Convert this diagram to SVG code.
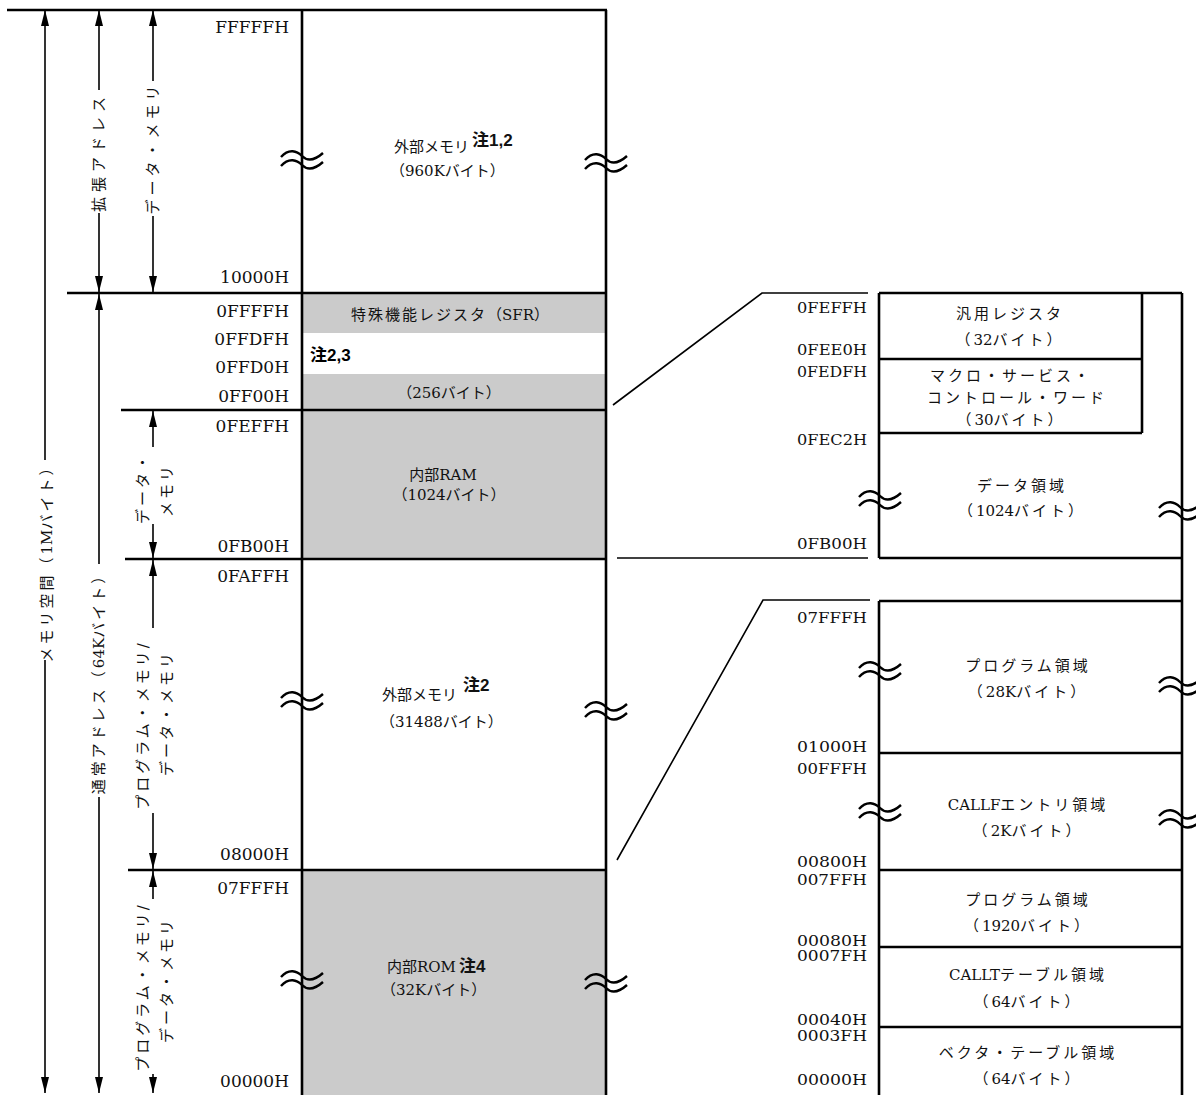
<svg xmlns="http://www.w3.org/2000/svg" width="1196" height="1095" viewBox="0 0 1196 1095">
<style>
.ln{stroke:#000;stroke-width:1.6;fill:none}
.bx{stroke:#000;stroke-width:2.6;fill:none}
.addr{font-family:"DejaVu Serif","Liberation Serif",serif;font-size:17px;text-anchor:end;fill:#111}
.addr2{font-family:"DejaVu Serif","Liberation Serif",serif;font-size:14.5px;text-anchor:end;fill:#111}
.t{font-family:"DejaVu Serif","Noto Sans CJK JP",sans-serif;font-size:15px;fill:#111}
.r{letter-spacing:3px}
.n{letter-spacing:0}
.c{text-anchor:middle}
.note{font-family:"Liberation Sans","Noto Sans CJK JP",sans-serif;font-weight:bold;font-size:17px}
.v{font-family:"DejaVu Serif","Noto Sans CJK JP",sans-serif;font-size:15px;text-anchor:middle;dominant-baseline:central;letter-spacing:3px;fill:#111}
.gray{fill:#cbcbcb}
.brk{stroke:#000;stroke-width:2.4;fill:none}
.ar{stroke:#000;stroke-width:1.6;fill:none;marker-end:url(#ah)}
</style>
<defs>
<marker id="ah" viewBox="0 0 16 8" refX="16" refY="4" markerWidth="16" markerHeight="8" orient="auto" markerUnits="userSpaceOnUse"><path d="M0,0 L16,4 L0,8 z" fill="#000"/></marker>
<path id="wave" class="brk" d="M-21,-3 C-13,-12 -5,-9 0,-4 S12,1 21,-7 M-21,6 C-13,-3 -5,0 0,5 S12,10 21,2"/>
</defs>

<!-- main column -->
<g id="main-column">
<rect class="gray" x="302" y="293" width="304" height="40"/>
<rect class="gray" x="302" y="374" width="304" height="36"/>
<rect class="gray" x="302" y="410" width="304" height="149"/>
<rect class="gray" x="302" y="870" width="304" height="225"/>
<line class="bx" x1="302" y1="10" x2="302" y2="1095"/>
<line class="bx" x1="606" y1="10" x2="606" y2="1095"/>
<line class="bx" x1="7" y1="10" x2="607" y2="10"/>
<line class="bx" x1="67" y1="293" x2="607" y2="293"/>
<line class="bx" x1="121" y1="410" x2="607" y2="410"/>
<line class="bx" x1="125" y1="559" x2="607" y2="559"/>
<line class="bx" x1="128" y1="870" x2="607" y2="870"/>
</g>

<g id="node-ext-mem-960k">
<text class="t" x="394" y="152">外部メモリ<tspan class="note" dx="3" dy="-6">注1,2</tspan></text>
<text class="t" x="390" y="176">（960Kバイト）</text>
</g>
<g id="node-sfr">
<text class="t c" x="450" y="320" style="letter-spacing:2px">特殊機能レジスタ<tspan class="n">（SFR）</tspan></text>
<text class="note" x="310" y="361">注2,3</text>
<text class="t c" x="449" y="398">（256バイト）</text>
</g>
<g id="node-internal-ram">
<text class="t c" x="443" y="480">内部RAM</text>
<text class="t c" x="449" y="500">（1024バイト）</text>
</g>
<g id="node-ext-mem-31488">
<text class="t" x="382" y="700">外部メモリ<tspan class="note" dx="6" dy="-9">注2</tspan></text>
<text class="t" x="380" y="727">（31488バイト）</text>
</g>
<g id="node-internal-rom">
<text class="t" x="387" y="972">内部ROM<tspan class="note" dx="3">注4</tspan></text>
<text class="t" x="381" y="995">（32Kバイト）</text>
</g>

<g id="main-addresses">
<text class="addr" x="289" y="33">FFFFFH</text>
<text class="addr" x="289" y="283">10000H</text>
<text class="addr" x="289" y="317">0FFFFH</text>
<text class="addr" x="289" y="345">0FFDFH</text>
<text class="addr" x="289" y="373">0FFD0H</text>
<text class="addr" x="289" y="402">0FF00H</text>
<text class="addr" x="289" y="432">0FEFFH</text>
<text class="addr" x="289" y="552">0FB00H</text>
<text class="addr" x="289" y="582">0FAFFH</text>
<text class="addr" x="289" y="860">08000H</text>
<text class="addr" x="289" y="894">07FFFH</text>
<text class="addr" x="289" y="1087">00000H</text>
</g>

<!-- right detail: data area -->
<g id="detail-data">
<line class="bx" x1="879" y1="293" x2="1182" y2="293"/>
<line class="bx" x1="879" y1="293" x2="879" y2="558"/>
<line class="bx" x1="1182" y1="293" x2="1182" y2="1095"/>
<line class="bx" x1="879" y1="558" x2="1182" y2="558"/>
<line class="bx" x1="1142" y1="293" x2="1142" y2="433"/>
<line class="bx" x1="879" y1="359" x2="1142" y2="359"/>
<line class="bx" x1="879" y1="433" x2="1142" y2="433"/>
</g>
<g id="node-gp-reg">
<text class="t c r" x="1010" y="319">汎用レジスタ</text>
<text class="t c r" x="1010" y="345">（<tspan class="n">32</tspan>バイト）</text>
</g>
<g id="node-macro">
<text class="t c r" x="1011" y="381">マクロ・サービス・</text>
<text class="t c r" x="1017" y="403">コントロール・ワード</text>
<text class="t c r" x="1011" y="425">（<tspan class="n">30</tspan>バイト）</text>
</g>
<g id="node-data-area">
<text class="t c r" x="1022" y="491">データ領域</text>
<text class="t c r" x="1022" y="516">（<tspan class="n">1024</tspan>バイト）</text>
</g>
<g id="detail-data-addr">
<text class="addr2" x="867" y="313" textLength="70" lengthAdjust="spacingAndGlyphs">0FEFFH</text>
<text class="addr2" x="867" y="355" textLength="70" lengthAdjust="spacingAndGlyphs">0FEE0H</text>
<text class="addr2" x="867" y="377" textLength="70" lengthAdjust="spacingAndGlyphs">0FEDFH</text>
<text class="addr2" x="867" y="445" textLength="70" lengthAdjust="spacingAndGlyphs">0FEC2H</text>
<text class="addr2" x="867" y="549" textLength="70" lengthAdjust="spacingAndGlyphs">0FB00H</text>
</g>

<!-- right detail: program area -->
<g id="detail-program">
<line class="bx" x1="879" y1="601" x2="1182" y2="601"/>
<line class="bx" x1="879" y1="601" x2="879" y2="1095"/>
<line class="bx" x1="879" y1="753" x2="1182" y2="753"/>
<line class="bx" x1="879" y1="870" x2="1182" y2="870"/>
<line class="bx" x1="879" y1="947" x2="1182" y2="947"/>
<line class="bx" x1="879" y1="1027" x2="1182" y2="1027"/>
</g>
<g id="node-prog-28k">
<text class="t c r" x="1028" y="671">プログラム領域</text>
<text class="t c r" x="1028" y="697">（<tspan class="n">28K</tspan>バイト）</text>
</g>
<g id="node-callf">
<text class="t c r" x="1028" y="810"><tspan class="n">CALLF</tspan>エントリ領域</text>
<text class="t c r" x="1028" y="836">（<tspan class="n">2K</tspan>バイト）</text>
</g>
<g id="node-prog-1920">
<text class="t c r" x="1028" y="905">プログラム領域</text>
<text class="t c r" x="1028" y="931">（<tspan class="n">1920</tspan>バイト）</text>
</g>
<g id="node-callt">
<text class="t c r" x="1028" y="980"><tspan class="n">CALLT</tspan>テーブル領域</text>
<text class="t c r" x="1028" y="1007">（<tspan class="n">64</tspan>バイト）</text>
</g>
<g id="node-vector">
<text class="t c r" x="1028" y="1058">ベクタ・テーブル領域</text>
<text class="t c r" x="1028" y="1084">（<tspan class="n">64</tspan>バイト）</text>
</g>
<g id="detail-program-addr">
<text class="addr2" x="867" y="623" textLength="70" lengthAdjust="spacingAndGlyphs">07FFFH</text>
<text class="addr2" x="867" y="752" textLength="70" lengthAdjust="spacingAndGlyphs">01000H</text>
<text class="addr2" x="867" y="774" textLength="70" lengthAdjust="spacingAndGlyphs">00FFFH</text>
<text class="addr2" x="867" y="867" textLength="70" lengthAdjust="spacingAndGlyphs">00800H</text>
<text class="addr2" x="867" y="885" textLength="70" lengthAdjust="spacingAndGlyphs">007FFH</text>
<text class="addr2" x="867" y="946" textLength="70" lengthAdjust="spacingAndGlyphs">00080H</text>
<text class="addr2" x="867" y="961" textLength="70" lengthAdjust="spacingAndGlyphs">0007FH</text>
<text class="addr2" x="867" y="1025" textLength="70" lengthAdjust="spacingAndGlyphs">00040H</text>
<text class="addr2" x="867" y="1041" textLength="70" lengthAdjust="spacingAndGlyphs">0003FH</text>
<text class="addr2" x="867" y="1085" textLength="70" lengthAdjust="spacingAndGlyphs">00000H</text>
</g>

<!-- break marks -->
<g id="breaks">
<use href="#wave" transform="translate(302,160)"/>
<use href="#wave" transform="translate(606,163)"/>
<use href="#wave" transform="translate(302,701)"/>
<use href="#wave" transform="translate(606,711)"/>
<use href="#wave" transform="translate(302,980)"/>
<use href="#wave" transform="translate(606,983)"/>
<use href="#wave" transform="translate(880,500)"/>
<use href="#wave" transform="translate(1180,511)"/>
<use href="#wave" transform="translate(880,671)"/>
<use href="#wave" transform="translate(1180,686)"/>
<use href="#wave" transform="translate(880,812)"/>
<use href="#wave" transform="translate(1180,819)"/>
</g>

<!-- connectors -->
<g id="connectors">
<polyline class="ln" points="613,405 762,293 868,293"/>
<line class="ln" x1="617" y1="558" x2="868" y2="558"/>
<polyline class="ln" points="617,860 763,600 870,600"/>
<line class="ar" x1="45" y1="460" x2="45" y2="10"/>
<line class="ar" x1="45" y1="660" x2="45" y2="1093"/>
<line class="ar" x1="99" y1="90" x2="99" y2="10"/>
<line class="ar" x1="99" y1="213" x2="99" y2="292"/>
<line class="ar" x1="99" y1="564" x2="99" y2="294"/>
<line class="ar" x1="99" y1="797" x2="99" y2="1093"/>
<line class="ar" x1="153" y1="81" x2="153" y2="10"/>
<line class="ar" x1="153" y1="216" x2="153" y2="292"/>
<line class="ar" x1="153" y1="447" x2="153" y2="411"/>
<line class="ar" x1="153" y1="524" x2="153" y2="558"/>
<line class="ar" x1="153" y1="628" x2="153" y2="560"/>
<line class="ar" x1="153" y1="813" x2="153" y2="869"/>
<line class="ar" x1="153" y1="899" x2="153" y2="871"/>
<line class="ar" x1="153" y1="1074" x2="153" y2="1093"/>
</g>

<g id="vertical-labels">
<text class="v" transform="translate(47,560) rotate(-90)">メモリ空間（<tspan class="n">1M</tspan>バイト）</text>
<text class="v" transform="translate(99,152) rotate(-90)" style="letter-spacing:5px">拡張アドレス</text>
<text class="v" transform="translate(99,680) rotate(-90)">通常アドレス（<tspan class="n">64K</tspan>バイト）</text>
<text class="v" transform="translate(153,148) rotate(-90)" style="letter-spacing:4px">データ・メモリ</text>
<text class="v" transform="translate(143,488) rotate(-90)">データ・</text>
<text class="v" transform="translate(167,490) rotate(-90)">メモリ</text>
<text class="v" transform="translate(143,725) rotate(-90)">プログラム・メモリ/</text>
<text class="v" transform="translate(167,713) rotate(-90)">データ・メモリ</text>
<text class="v" transform="translate(143,987) rotate(-90)">プログラム・メモリ/</text>
<text class="v" transform="translate(167,980) rotate(-90)">データ・メモリ</text>
</g>
</svg>
